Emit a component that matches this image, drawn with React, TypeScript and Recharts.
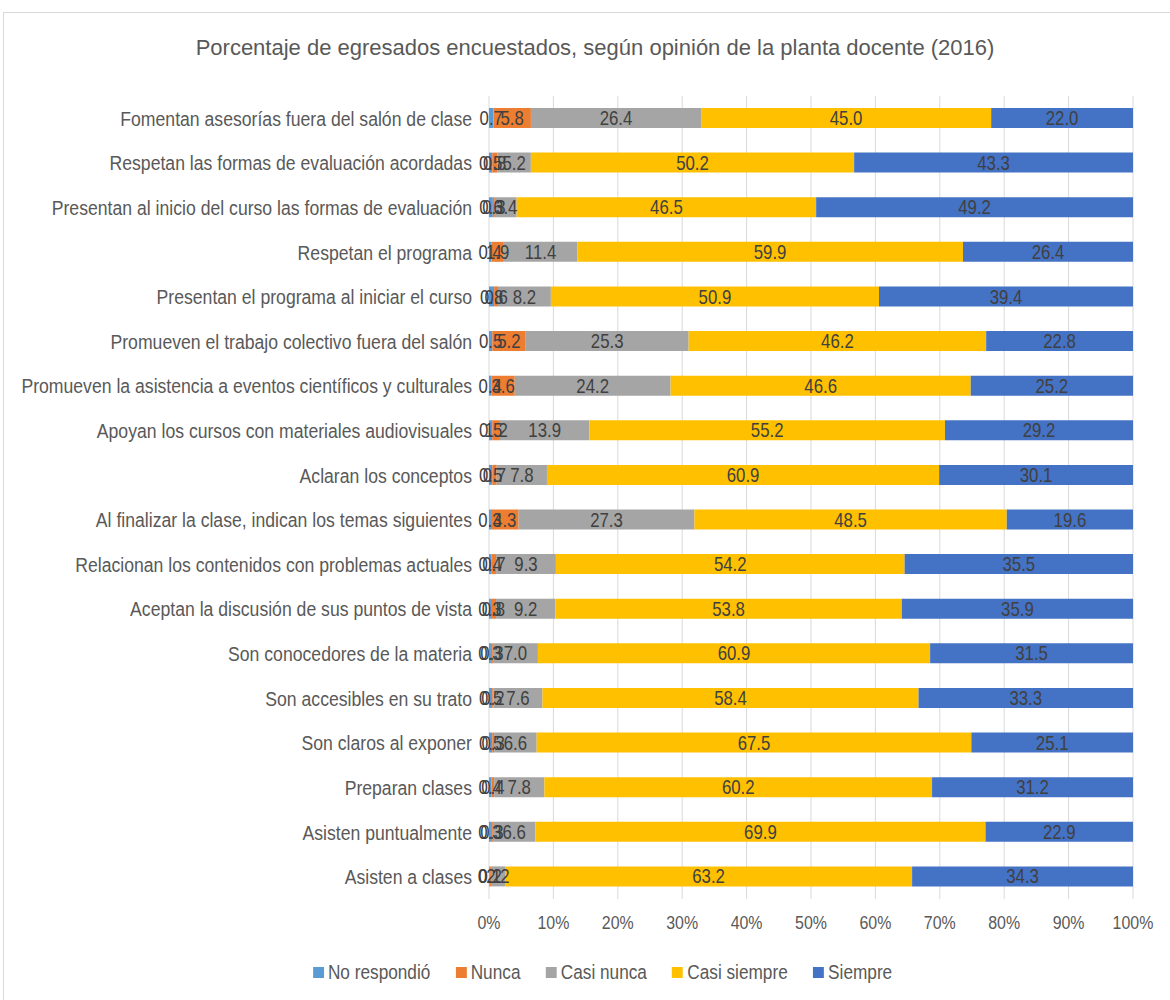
import React from "react";
import { BarChart, Bar, XAxis, YAxis, CartesianGrid, Legend, LabelList } from "recharts";

const categories = [
  "Fomentan asesorías fuera del salón de clase",
  "Respetan las formas de evaluación acordadas",
  "Presentan al inicio del curso las formas de evaluación",
  "Respetan el programa",
  "Presentan el programa al iniciar el curso",
  "Promueven el trabajo colectivo fuera del salón",
  "Promueven la asistencia a eventos científicos y culturales",
  "Apoyan los cursos con materiales audiovisuales",
  "Aclaran los conceptos",
  "Al finalizar la clase, indican los temas siguientes",
  "Relacionan los contenidos con problemas actuales",
  "Aceptan la discusión de sus puntos de vista",
  "Son conocedores de la materia",
  "Son accesibles en su trato",
  "Son claros al exponer",
  "Preparan clases",
  "Asisten puntualmente",
  "Asisten a clases",
];

const noRespondio = [0.7, 0.5, 0.6, 0.4, 0.8, 0.5, 0.4, 0.5, 0.5, 0.3, 0.4, 0.3, 0.3, 0.5, 0.5, 0.4, 0.3, 0.1];
const nunca = [5.8, 0.8, 0.3, 1.9, 0.6, 5.2, 3.6, 1.2, 0.7, 4.3, 0.7, 0.8, 0.3, 0.2, 0.3, 0.4, 0.3, 0.2];
const casiNunca = [26.4, 5.2, 3.4, 11.4, 8.2, 25.3, 24.2, 13.9, 7.8, 27.3, 9.3, 9.2, 7.0, 7.6, 6.6, 7.8, 6.6, 2.2];
const casiSiempre = [45.0, 50.2, 46.5, 59.9, 50.9, 46.2, 46.6, 55.2, 60.9, 48.5, 54.2, 53.8, 60.9, 58.4, 67.5, 60.2, 69.9, 63.2];
const siempre = [22.0, 43.3, 49.2, 26.4, 39.4, 22.8, 25.2, 29.2, 30.1, 19.6, 35.5, 35.9, 31.5, 33.3, 25.1, 31.2, 22.9, 34.3];

const xTicks = [0, 0.1, 0.2, 0.3, 0.4, 0.5, 0.6, 0.7, 0.8, 0.9, 1];

const seriesDefs = [
  { key: "noRespondio", name: "No respondió", color: "#5B9BD5" },
  { key: "nunca", name: "Nunca", color: "#ED7D31" },
  { key: "casiNunca", name: "Casi nunca", color: "#A5A5A5" },
  { key: "casiSiempre", name: "Casi siempre", color: "#FFC000" },
  { key: "siempre", name: "Siempre", color: "#4472C4" },
];

const data = categories.map((c, i) => ({
  name: c,
  noRespondio: noRespondio[i],
  nunca: nunca[i],
  casiNunca: casiNunca[i],
  casiSiempre: casiSiempre[i],
  siempre: siempre[i],
}));

const FONT = "'Liberation Sans', Arial, sans-serif";
const SX = 0.84;

const squeeze = (x: number, y: number) => `translate(${x},${y}) scale(${SX},1) translate(${-x},${-y})`;

const YTick = (props: any) => {
  const { x, y, payload } = props;
  return (
    <text
      x={x}
      y={y}
      dy="0.355em"
      textAnchor="end"
      fill="#595959"
      fontSize={21}
      fontFamily={FONT}
      transform={squeeze(x, y)}
    >
      {payload.value}
    </text>
  );
};

const XTick = (props: any) => {
  const { x, y, payload } = props;
  return (
    <text
      x={x}
      y={y}
      dy="0.71em"
      textAnchor="middle"
      fill="#595959"
      fontSize={19}
      fontFamily={FONT}
      transform={squeeze(x, y)}
    >
      {`${Math.round(payload.value * 100)}%`}
    </text>
  );
};

const BarLabel = (props: any) => {
  const { x, y, width, height, value } = props;
  const cx = Number(x) + Number(width) / 2;
  const cy = Number(y) + Number(height) / 2;
  return (
    <text
      x={cx}
      y={cy}
      dy="0.355em"
      textAnchor="middle"
      fill="#404040"
      fontSize={20}
      fontFamily={FONT}
      transform={squeeze(cx, cy)}
    >
      {Number(value).toFixed(1)}
    </text>
  );
};

const renderLegend = () => (
  <div
    style={{
      display: "flex",
      justifyContent: "center",
      alignItems: "center",
      fontFamily: FONT,
      fontSize: 20.5,
      color: "#595959",
      transform: `translateX(36px) scaleX(${SX})`,
      transformOrigin: "center",
    }}
  >
    {seriesDefs.map((s, i) => (
      <div
        key={s.key}
        style={{ display: "flex", alignItems: "center", marginRight: i < seriesDefs.length - 1 ? 30 : 0 }}
      >
        <span style={{ display: "inline-block", width: 13, height: 11, background: s.color, marginRight: 5 }} />
        <span>{s.name}</span>
      </div>
    ))}
  </div>
);

export default function App() {
  return (
    <div
      style={{
        position: "fixed",
        left: 0,
        top: 0,
        width: 1170,
        height: 1000,
        overflow: "hidden",
        background: "#fff",
        fontFamily: FONT,
      }}
    >
      <div
        style={{
          position: "absolute",
          left: 3,
          top: 12,
          width: 1200,
          height: 1100,
          border: "1px solid #d9d9d9",
          boxSizing: "border-box",
        }}
      />
      <div
        style={{
          position: "absolute",
          left: 0,
          top: 35,
          width: 1190,
          textAlign: "center",
          fontSize: 22,
          lineHeight: "26px",
          color: "#595959",
        }}
      >
        Porcentaje de egresados encuestados, según opinión de la planta docente (2016)
      </div>
      <div style={{ position: "absolute", left: 0, top: 0 }}>
        <BarChart
          width={1170}
          height={1000}
          data={data}
          layout="vertical"
          stackOffset="expand"
          barSize={20}
          margin={{ top: 96, right: 37, bottom: 10, left: 0 }}
        >
          <CartesianGrid horizontal={false} vertical={true} stroke="#d9d9d9" />
          <XAxis
            type="number"
            domain={[0, 1]}
            ticks={xTicks}
            axisLine={false}
            tickLine={false}
            tickSize={0}
            tickMargin={17}
            height={61}
            tick={<XTick />}
            interval={0}
          />
          <YAxis
            type="category"
            dataKey="name"
            width={489}
            axisLine={false}
            tickLine={false}
            tickSize={0}
            tickMargin={17}
            interval={0}
            tick={<YTick />}
          />
          <Legend verticalAlign="bottom" align="center" height={30} content={renderLegend} />
          {seriesDefs.map((s) => (
            <Bar key={s.key} dataKey={s.key} name={s.name} stackId="a" fill={s.color} isAnimationActive={false}>
              <LabelList dataKey={s.key} position="center" content={<BarLabel />} />
            </Bar>
          ))}
        </BarChart>
      </div>
    </div>
  );
}
